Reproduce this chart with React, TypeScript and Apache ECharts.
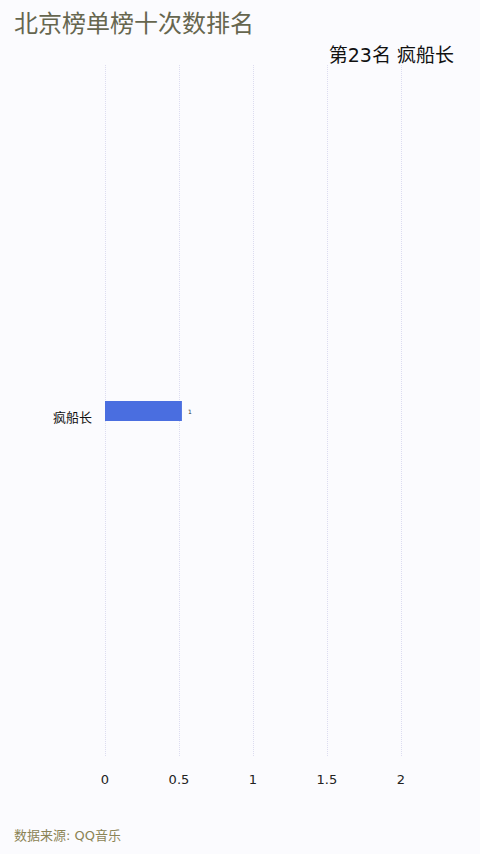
import React, { useEffect, useRef } from 'react';
import * as echarts from 'echarts';

const categories = ['疯船长'];
const values = [0.52];
const rankText = '第23名 疯船长';
const xMax = 2.4;

const App: React.FC = () => {
  const chartRef = useRef<HTMLDivElement>(null);

  useEffect(() => {
    if (!chartRef.current) return;
    const chart = echarts.init(chartRef.current, null, { renderer: 'svg' });

    const option = {
      animation: false,
      backgroundColor: '#fbfbfe',
      textStyle: { fontFamily: 'DejaVu Sans, Noto Sans CJK SC, sans-serif' },
      title: [
        {
          text: '北京榜单榜十次数排名',
          left: 9,
          top: 7,
          textStyle: { color: '#66664f', fontSize: 24, fontWeight: 'normal' }
        },
        {
          text: rankText,
          right: 21,
          top: 40,
          textStyle: { color: '#111', fontSize: 19, fontWeight: 'normal' }
        },
        {
          text: '数据来源: QQ音乐',
          left: 9,
          bottom: 7,
          textStyle: { color: '#8b8455', fontSize: 13, fontWeight: 'normal' }
        }
      ],
      grid: { left: 105, right: 20, top: 65, bottom: 97, containLabel: false },
      xAxis: {
        type: 'value',
        min: 0,
        max: xMax,
        interval: 0.5,
        axisLine: { show: false },
        axisTick: { show: false },
        axisLabel: { color: '#222', fontSize: 13, margin: 16, showMaxLabel: false },
        splitLine: { show: true, showMaxLine: false, lineStyle: { color: '#dcdcf0', type: 'dotted' } }
      },
      yAxis: {
        type: 'category',
        data: categories,
        axisLine: { show: false },
        axisTick: { show: false },
        axisLabel: { color: '#111', fontSize: 13, margin: 13, verticalAlign: 'top' }
      },
      series: [
        {
          type: 'bar',
          data: values,
          barWidth: 20,
          itemStyle: { color: '#4a6ee0' },
          label: {
            show: true,
            position: 'right',
            fontSize: 6,
            color: '#333',
            distance: 6,
            formatter: (p: any) => String(Math.round(p.value))
          }
        }
      ]
    };

    chart.setOption(option);
    const handleResize = () => chart.resize();
    window.addEventListener('resize', handleResize);
    return () => {
      window.removeEventListener('resize', handleResize);
      chart.dispose();
    };
  }, []);

  return (
    <div
      ref={chartRef}
      style={{ position: 'absolute', left: 0, top: 0, width: 480, height: 854 }}
    />
  );
};

export default App;
